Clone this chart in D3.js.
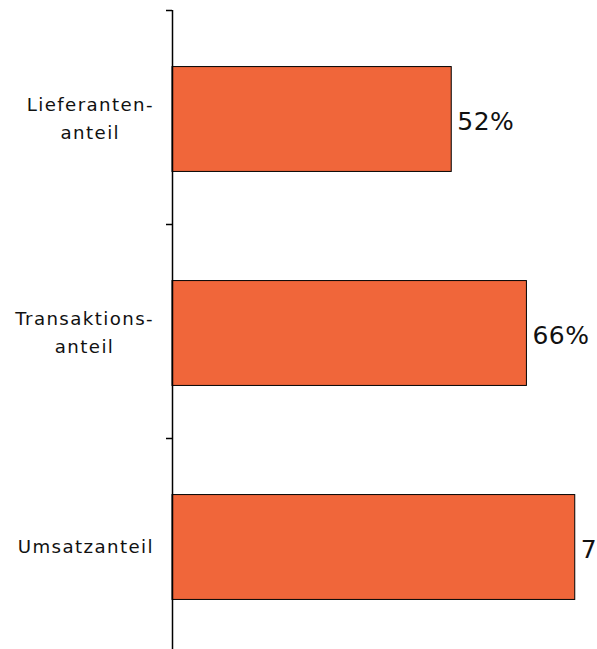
<!DOCTYPE html>
<html><head><meta charset="utf-8">
<script src="https://cdn.jsdelivr.net/npm/d3@7"></script>
<style>html,body{margin:0;padding:0;background:#fff;overflow:hidden}</style>
</head><body>
<svg id="c" width="597" height="649"></svg>
<script>
const categories = [["Lieferanten-","anteil"],["Transaktions-","anteil"],["Umsatzanteil"]];
const values = [52, 66, 75];
const valueLabels = ["52%","66%","75%"];

const svg = d3.select("#c");
const keys = categories.map((c,i)=>i);
const yCat = d3.scaleBand().domain(keys).range([10,652]).padding(0);
const yBar = d3.scaleBand().domain(keys).range([12,654]).paddingInner(0.51).paddingOuter(0.255);
const x = d3.scaleLinear().domain([0,100]).range([172,709]);

// bars
svg.selectAll("rect.bar").data(values).join("rect")
  .attr("x", x(0)).attr("y",(d,i)=>yBar(i))
  .attr("width", d=>x(d)-x(0)).attr("height", yBar.bandwidth())
  .attr("fill","#F0663A").attr("stroke","#000").attr("stroke-width",1);

// axis line and ticks at band boundaries
svg.append("line").attr("x1",172.5).attr("x2",172.5).attr("y1",yCat(0)).attr("y2",649)
  .attr("stroke","#000").attr("stroke-width",1.5);
svg.selectAll("line.tick").data(keys).join("line")
  .attr("x1",166).attr("x2",172).attr("y1",d=>yCat(d)+0.5).attr("y2",d=>yCat(d)+0.5)
  .attr("stroke","#000").attr("stroke-width",1.5);

// category labels
const lineH = 28;
keys.forEach(i=>{
  const lines = categories[i];
  const cy = yBar(i) + yBar.bandwidth()/2;
  const g = svg.append("g");
  const texts = lines.map((t,j)=> g.append("text").text(t)
     .attr("font-family","DejaVu Sans, Verdana, sans-serif").attr("font-size",18.2)
     .attr("letter-spacing","1.4px").attr("fill","#111")
     .attr("text-anchor","middle")
     .attr("y", cy + (j - (lines.length-1)/2)*lineH + 6));
  const maxW = d3.max(texts, t=>t.node().getComputedTextLength());
  const center = 154 - maxW/2;
  texts.forEach(t=>t.attr("x", center));
});

// value labels
svg.selectAll("text.val").data(values).join("text")
  .attr("x", d=>x(d)+6).attr("y",(d,i)=>yBar(i)+yBar.bandwidth()/2+11)
  .attr("font-family","DejaVu Sans, sans-serif").attr("font-size",25)
  .attr("letter-spacing","0.5px")
  .attr("fill","#111").text((d,i)=>valueLabels[i]);
</script>
</body></html>
